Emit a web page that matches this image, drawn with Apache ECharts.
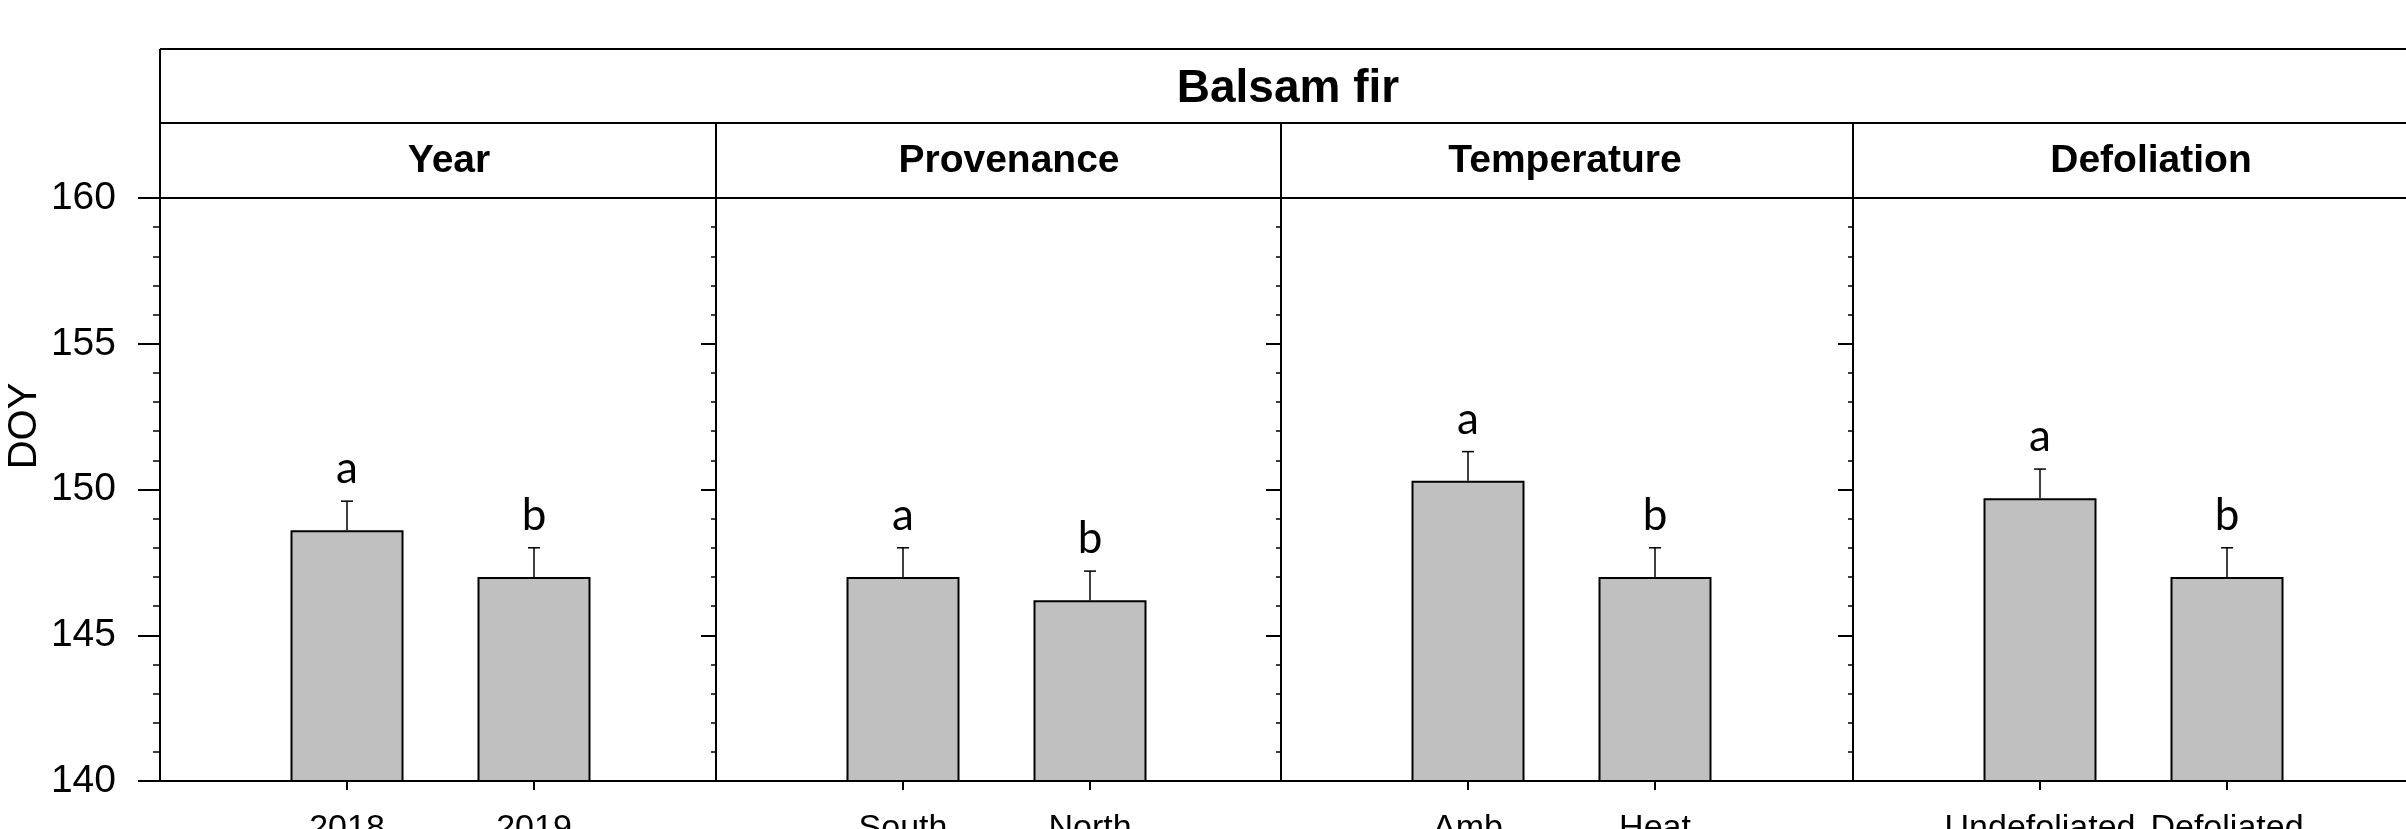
<!DOCTYPE html>
<html><head><meta charset="utf-8">
<script src="https://cdn.jsdelivr.net/npm/echarts@6/dist/echarts.min.js"></script>
<style>html,body{margin:0;padding:0;background:#fff;overflow:hidden}#c{width:2406px;height:829px}</style>
</head><body><div id="c"></div>
<script>
// ---- data ----
const chartTitle = 'Balsam fir';
const yAxisName = 'DOY';
const panelNames = ['Year', 'Provenance', 'Temperature', 'Defoliation'];
const categories = [['2018', '2019'], ['South', 'North'], ['Amb', 'Heat'], ['Undefoliated', 'Defoliated']];
const means = [[148.6, 147.0], [147.0, 146.2], [150.3, 147.0], [149.7, 147.0]];
const errors = [[1.0, 1.0], [1.0, 1.0], [1.0, 1.0], [1.0, 1.0]];
const letters = [['a', 'b'], ['a', 'b'], ['a', 'b'], ['a', 'b']];
const yMin = 140, yMax = 160, yStep = 5;

// ---- layout ----
const panelEdges = [160, 716, 1281, 1853, 2416];
const frameTop = 49, stripY = 123, plotTop = 198, plotBottom = 781;
const barSpacing = 187;
const headerCenters = [449, 1009, 1565, 2151];
const ink = '#000';

const chart = echarts.init(document.getElementById('c'), null, {renderer: 'canvas'});

const grids = [], xAxes = [], yAxes = [], series = [];
panelNames.forEach((name, i) => {
  const w = panelEdges[i + 1] - panelEdges[i];
  grids.push({left: panelEdges[i], width: w, top: plotTop, height: plotBottom - plotTop,
    containLabel: false, outerBoundsMode: 'none'});
  xAxes.push({
    gridIndex: i, type: 'value', min: 0, max: w / barSpacing,
    axisLine: {show: true, onZero: false, lineStyle: {color: ink, width: 2}},
    axisTick: {show: true, customValues: [1, 2], length: 9, lineStyle: {color: ink, width: 2}},
    axisLabel: {customValues: [1, 2], formatter: v => categories[i][Math.round(v) - 1] || '',
      fontSize: 34, fontFamily: 'Liberation Sans', color: ink, margin: 31},
    splitLine: {show: false}
  });
  yAxes.push({
    gridIndex: i, type: 'value', min: yMin, max: yMax, interval: yStep,
    axisLine: {show: true, onZero: false, lineStyle: {color: ink, width: 2}},
    axisTick: {show: true, length: i === 0 ? 22 : 15, lineStyle: {color: ink, width: 2}},
    minorTick: {show: true, splitNumber: 5, length: i === 0 ? 7 : 5, lineStyle: {color: ink, width: 1.5}},
    axisLabel: {show: i === 0, fontSize: 39, fontFamily: 'Liberation Sans', color: ink, margin: 44},
    splitLine: {show: false}, minorSplitLine: {show: false}
  });
  series.push({
    type: 'bar', xAxisIndex: i, yAxisIndex: i, barWidth: 113, clip: true,
    itemStyle: {color: '#c0c0c0', borderColor: ink, borderWidth: 2},
    data: means[i].map((m, j) => [j + 1, m])
  });
  series.push({
    type: 'custom', xAxisIndex: i, yAxisIndex: i, z: 5,
    data: means[i].map((m, j) => [j + 1, m, errors[i][j]]),
    renderItem: (params, api) => {
      const x = api.value(0), m = api.value(1), e = api.value(2);
      const p0 = api.coord([x, m]), p1 = api.coord([x, m + e]);
      return {type: 'group', children: [
        {type: 'line', shape: {x1: p0[0], y1: p0[1], x2: p1[0], y2: p1[1]}, style: {stroke: ink, lineWidth: 1.5}},
        {type: 'line', shape: {x1: p1[0] - 6, y1: p1[1], x2: p1[0] + 6, y2: p1[1]}, style: {stroke: ink, lineWidth: 1.5}},
        {type: 'text', x: p1[0], y: p1[1] - 10, style: {text: letters[i][params.dataIndex],
          font: '44px Lato', fill: ink, align: 'center', verticalAlign: 'bottom'}}
      ]};
    }
  });
});

const L = panelEdges[0], R = panelEdges[panelEdges.length - 1];
const lineStyle = {stroke: ink, lineWidth: 2};
const graphics = [
  {type: 'line', shape: {x1: L, y1: frameTop, x2: R, y2: frameTop}, style: lineStyle},
  {type: 'line', shape: {x1: L, y1: stripY, x2: R, y2: stripY}, style: lineStyle},
  {type: 'line', shape: {x1: L, y1: plotTop, x2: R, y2: plotTop}, style: lineStyle},
  {type: 'line', shape: {x1: L, y1: frameTop, x2: L, y2: plotTop}, style: lineStyle},
  {type: 'text', x: (L + R) / 2, y: (frameTop + stripY) / 2 + 3,
    style: {text: chartTitle, font: 'bold 46px "Liberation Sans"', fill: ink, align: 'center', verticalAlign: 'middle'}},
  {type: 'text', x: 25, y: 426, rotation: Math.PI / 2,
    style: {text: yAxisName, font: '40px "Liberation Sans"', fill: ink, align: 'center', verticalAlign: 'middle'}}
];
for (let i = 1; i < panelEdges.length - 1; i++) {
  graphics.push({type: 'line', shape: {x1: panelEdges[i], y1: stripY, x2: panelEdges[i], y2: plotTop}, style: lineStyle});
}
panelNames.forEach((name, i) => {
  graphics.push({type: 'text', x: headerCenters[i], y: (stripY + plotTop) / 2 + 1,
    style: {text: name, font: 'bold 39px "Liberation Sans"', fill: ink, align: 'center', verticalAlign: 'middle'}});
});

chart.setOption({
  animation: false,
  backgroundColor: '#fff',
  grid: grids, xAxis: xAxes, yAxis: yAxes, series: series,
  graphic: graphics
});
</script>
</body></html>
